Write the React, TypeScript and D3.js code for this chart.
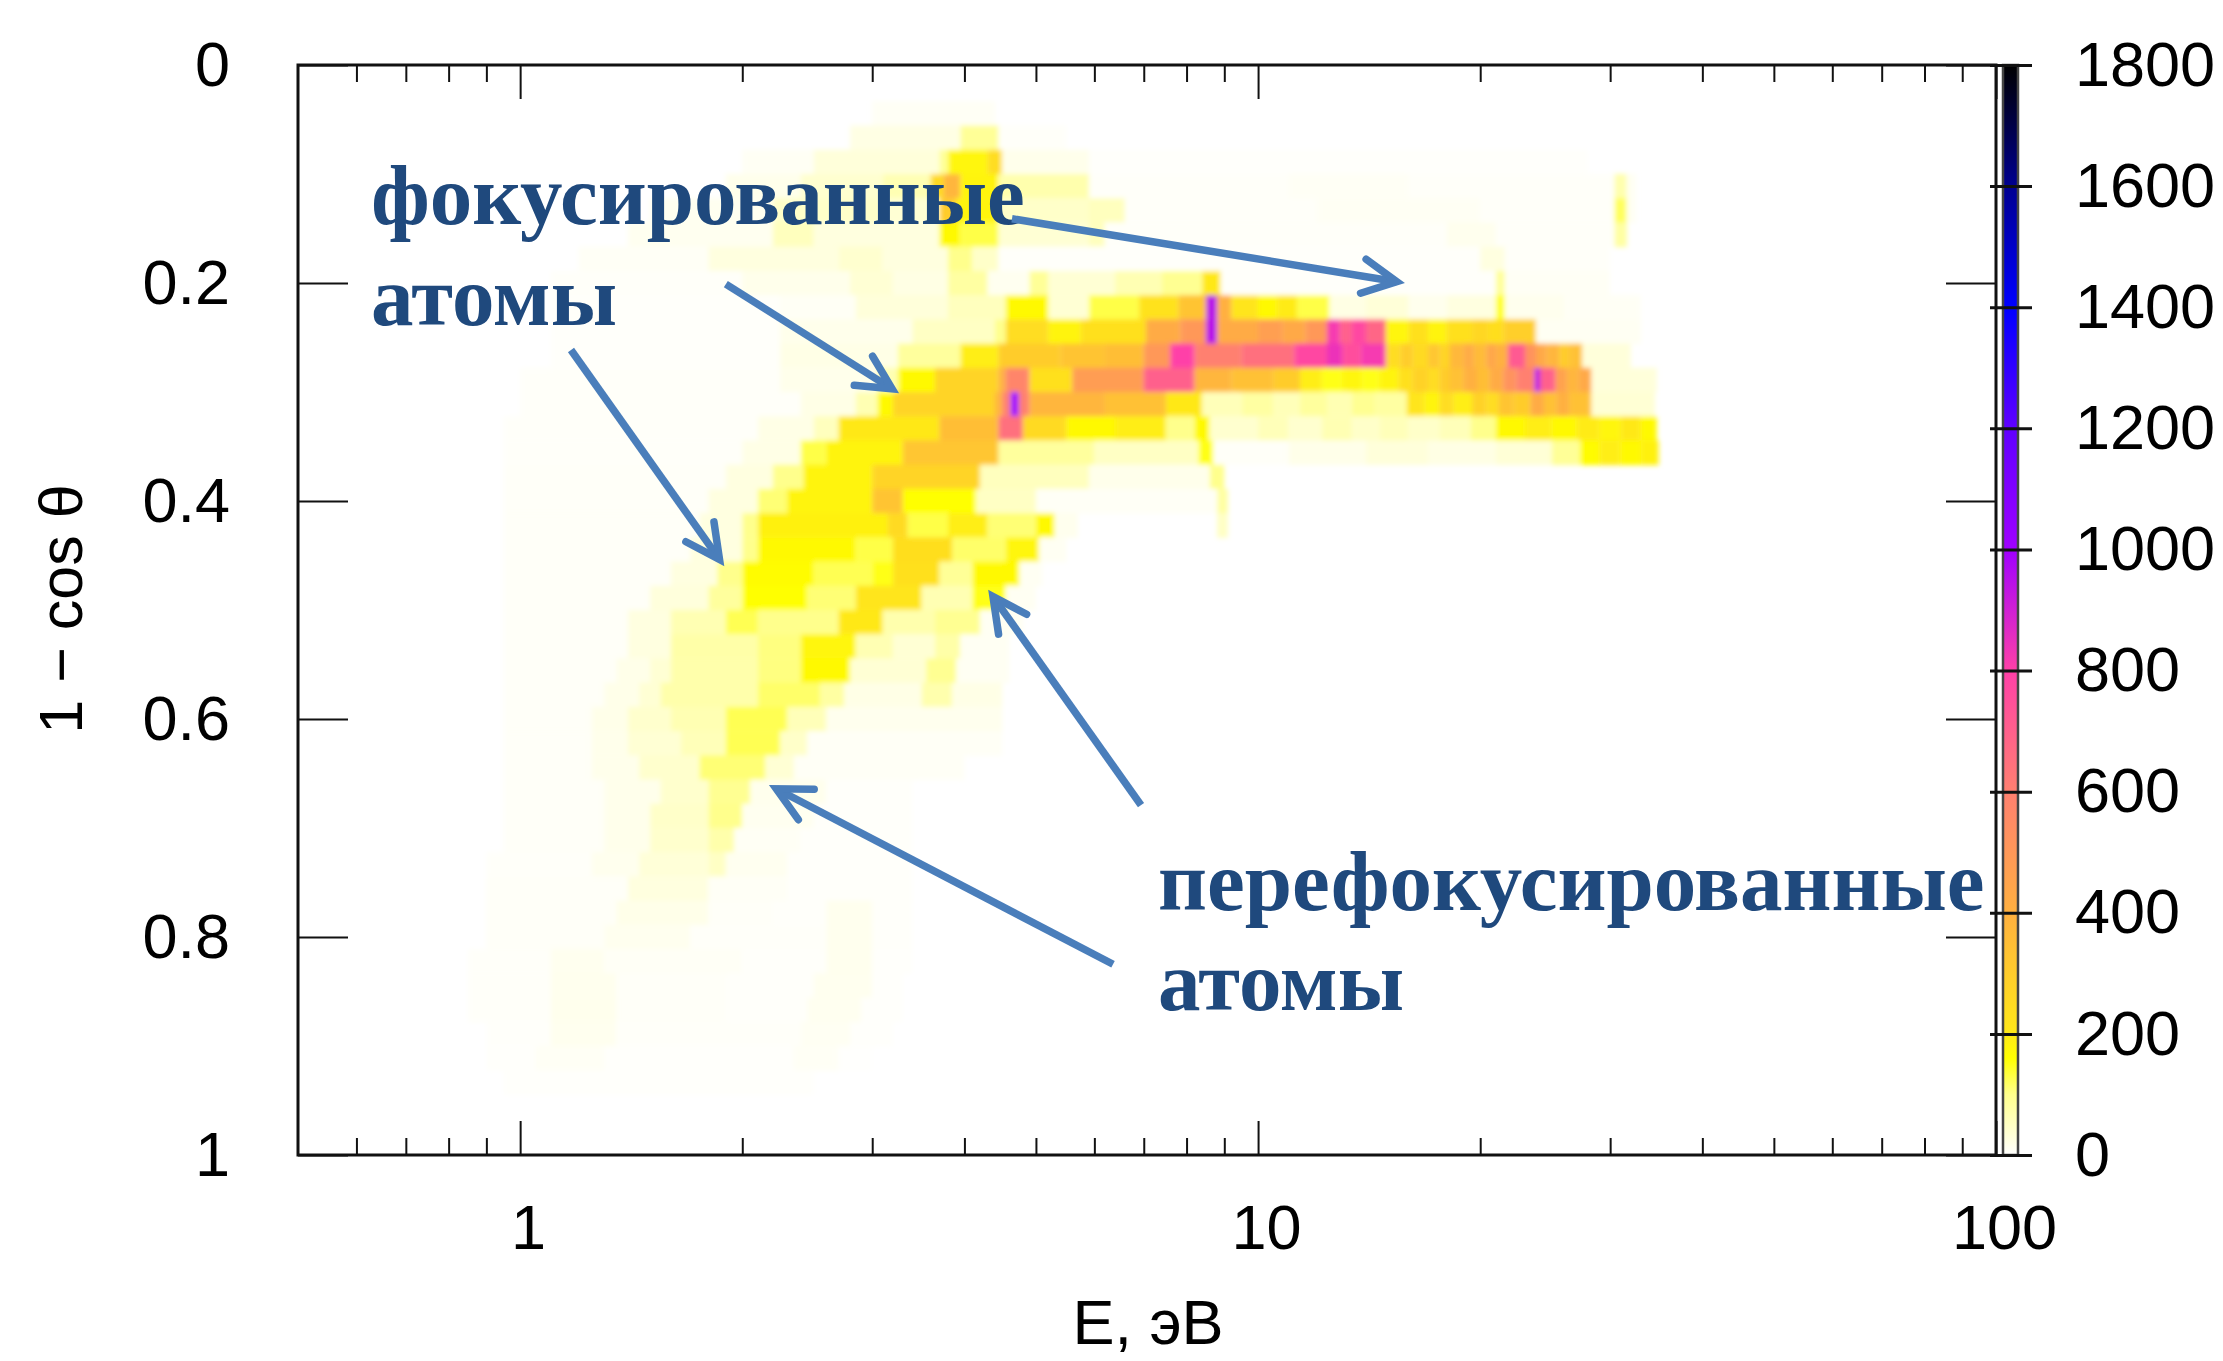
import React, { useEffect, useRef } from "react"
import * as d3 from "d3"

const width = 2223
const height = 1361

// row number k stands for 1 - cos(theta) = k / 45
const rowStep = 1 / 45

// each row: [E from, E to, counts]
const row2 = [[3.0, 4.4, 8]]
const row3 = [[2.8, 3.95, 22], [3.95, 4.45, 90], [4.45, 5.5, 5]]
const row4 = [[2.0, 2.5, 9], [2.5, 3.7, 30], [3.7, 3.8, 90], [3.8, 4.3, 175], [4.3, 4.5, 240], [4.5, 5.9, 16], [5.9, 28, 3]]
const row5 = [[1.9, 2.4, 16], [2.4, 3.1, 40], [3.1, 3.6, 65], [3.6, 3.75, 250], [3.75, 3.95, 380], [3.95, 4.45, 180], [4.45, 5.9, 70], [5.9, 11, 5], [11, 16, 8], [16, 30.4, 5], [30.4, 31.6, 70], [31.6, 32.5, 10]]
const row6 = [[1.5, 2.2, 12], [2.2, 3.1, 45], [3.1, 3.7, 35], [3.7, 3.9, 300], [3.9, 4.45, 180], [4.45, 5.9, 45], [5.9, 6.6, 55], [6.6, 12, 5], [12, 20, 9], [20, 30.4, 5], [30.4, 31.6, 120], [31.6, 32.5, 10]]
const row7 = [[1.4, 2.2, 12], [2.2, 2.5, 55], [2.5, 3.7, 26], [3.7, 3.95, 170], [3.95, 4.45, 130], [4.45, 5.9, 35], [5.9, 6.2, 55], [6.2, 18, 5], [18, 21, 14], [21, 30.4, 5], [30.4, 31.6, 80]]
const row8 = [[1.2, 1.8, 7], [1.8, 2.7, 26], [2.7, 3.1, 40], [3.1, 3.8, 26], [3.8, 4.1, 100], [4.1, 4.45, 45], [4.45, 20, 4], [20, 21.6, 25], [21.6, 30, 5]]
const row9 = [[1.1, 2.0, 5], [2.0, 2.8, 16], [2.8, 3.2, 35], [3.2, 3.8, 22], [3.8, 4.3, 80], [4.3, 4.9, 12], [4.9, 5.2, 90], [5.2, 6.4, 35], [6.4, 7.4, 65], [7.4, 8.4, 95], [8.4, 8.9, 200], [8.9, 21, 4], [21, 21.6, 90], [21.6, 30, 8]]
const row10 = [[1.1, 2.25, 4], [2.25, 2.85, 8], [2.85, 3.8, 30], [3.8, 4.55, 55], [4.55, 5.2, 170], [5.2, 5.9, 35], [5.9, 6.9, 130], [6.9, 7.8, 220], [7.8, 8.5, 330], [8.5, 8.8, 950], [8.8, 9.2, 400], [9.2, 10, 210], [10, 10.6, 170], [10.6, 11.3, 195], [11.3, 12.5, 130], [12.5, 14, 22], [14, 16, 32], [16, 18, 15], [18, 21, 25], [21, 21.6, 150], [21.6, 26, 14], [26, 33, 8]]
const row11 = [[1.1, 2.25, 4], [2.25, 3.4, 16], [3.4, 4.4, 50], [4.4, 4.55, 100], [4.55, 5.2, 240], [5.2, 5.75, 180], [5.75, 7.05, 230], [7.05, 7.85, 420], [7.85, 8.5, 500], [8.5, 8.8, 950], [8.8, 10, 420], [10, 10.8, 470], [10.8, 11.6, 430], [11.6, 12.4, 500], [12.4, 12.9, 820], [12.9, 13.4, 700], [13.4, 14, 780], [14, 14.9, 680], [14.9, 16, 175], [16, 17, 230], [17, 18, 180], [18, 19.5, 230], [19.5, 20.5, 260], [20.5, 21.5, 235], [21.5, 23.8, 290], [23.8, 33, 10]]
const row12 = [[1.1, 2.25, 4], [2.25, 3.25, 20], [3.25, 3.95, 85], [3.95, 4.45, 190], [4.45, 5.4, 300], [5.4, 6.2, 330], [6.2, 7.0, 350], [7.0, 7.6, 500], [7.6, 8.2, 800], [8.2, 9.5, 600], [9.5, 11.2, 650], [11.2, 12.4, 780], [12.4, 13, 840], [13, 13.8, 760], [13.8, 14.9, 820], [14.9, 15.6, 240], [15.6, 16.2, 300], [16.2, 17, 250], [17, 17.6, 320], [17.6, 18.2, 270], [18.2, 19, 370], [19, 19.6, 420], [19.6, 20.4, 360], [20.4, 21, 440], [21, 21.8, 400], [21.8, 23, 720], [23, 23.8, 520], [23.8, 24.6, 430], [24.6, 25.6, 380], [25.6, 26.4, 300], [26.4, 27.5, 340], [27.5, 32, 30]]
const row13 = [[1.0, 2.25, 5], [2.25, 3.05, 16], [3.05, 3.25, 65], [3.25, 3.65, 170], [3.65, 4.45, 270], [4.45, 4.55, 400], [4.55, 4.9, 580], [4.9, 5.6, 230], [5.6, 7.0, 480], [7.0, 8.2, 700], [8.2, 9.2, 380], [9.2, 10.5, 340], [10.5, 11.4, 300], [11.4, 12.2, 190], [12.2, 13, 150], [13, 13.8, 175], [13.8, 14.6, 150], [14.6, 15.5, 180], [15.5, 16.2, 230], [16.2, 17, 280], [17, 17.6, 240], [17.6, 18.2, 300], [18.2, 19, 340], [19, 19.8, 400], [19.8, 20.6, 350], [20.6, 21.5, 420], [21.5, 22.4, 520], [22.4, 23.7, 600], [23.7, 24.1, 950], [24.1, 25.3, 700], [25.3, 26.2, 460], [26.2, 27.2, 380], [27.2, 28.3, 430], [28.3, 34.7, 30]]
const row14 = [[1.0, 2.4, 5], [2.4, 2.85, 20], [2.85, 3.05, 65], [3.05, 3.2, 170], [3.2, 4.4, 270], [4.4, 4.5, 380], [4.5, 4.62, 600], [4.62, 4.74, 1000], [4.74, 4.9, 600], [4.9, 6.2, 380], [6.2, 7.5, 340], [7.5, 8.4, 200], [8.4, 9.5, 60], [9.5, 10.5, 80], [10.5, 11.4, 60], [11.4, 12.4, 85], [12.4, 13.4, 65], [13.4, 14.4, 95], [14.4, 15.9, 80], [15.9, 16.8, 210], [16.8, 17.6, 180], [17.6, 18.4, 240], [18.4, 19.5, 190], [19.5, 20.4, 280], [20.4, 21.2, 240], [21.2, 22.2, 330], [22.2, 23.4, 300], [23.4, 24.4, 420], [24.4, 25.4, 340], [25.4, 26.4, 400], [26.4, 28.3, 340], [28.3, 34.5, 35]]
const row15 = [[0.95, 2.1, 5], [2.1, 2.5, 20], [2.5, 2.7, 55], [2.7, 3.7, 200], [3.7, 4.45, 350], [4.45, 4.8, 650], [4.8, 5.5, 250], [5.5, 6.4, 170], [6.4, 7.5, 190], [7.5, 8.2, 100], [8.2, 8.6, 170], [8.6, 10, 40], [10, 11, 60], [11, 12.2, 40], [12.2, 13.4, 65], [13.4, 14.6, 45], [14.6, 16, 60], [16, 17.6, 45], [17.6, 19.4, 60], [19.4, 21, 100], [21, 23, 170], [23, 25, 190], [25, 27, 170], [27, 29, 195], [29, 31, 175], [31, 33, 200], [33, 34.7, 170]]
const row16 = [[0.95, 2.0, 5], [2.0, 2.4, 20], [2.4, 2.6, 130], [2.6, 3.3, 180], [3.3, 4.45, 320], [4.45, 6, 85], [6, 8.3, 50], [8.3, 8.7, 150], [8.7, 11, 6], [11, 14, 18], [14, 17, 30], [17, 21, 22], [21, 25, 34], [25, 27.3, 90], [27.3, 29, 165], [29, 31, 190], [31, 33, 170], [33, 34.9, 185]]
const row17 = [[0.95, 1.9, 6], [1.9, 2.2, 25], [2.2, 2.42, 100], [2.42, 3.0, 180], [3.0, 4.2, 270], [4.2, 5.9, 55], [5.9, 8.6, 16], [8.6, 9.0, 100]]
const row18 = [[0.95, 1.8, 6], [1.8, 2.1, 25], [2.1, 2.3, 110], [2.3, 3.0, 180], [3.0, 3.3, 330], [3.3, 4.15, 160], [4.15, 5, 50], [5, 8.8, 7], [8.8, 9.1, 80]]
const row19 = [[0.95, 1.75, 6], [1.75, 2.0, 25], [2.0, 2.1, 100], [2.1, 3.15, 185], [3.15, 3.35, 250], [3.35, 3.8, 130], [3.8, 4.3, 190], [4.3, 5.0, 110], [5.0, 5.3, 170], [5.3, 5.7, 14], [8.8, 9.1, 50]]
const row20 = [[0.95, 1.7, 6], [1.7, 2.0, 25], [2.0, 2.1, 100], [2.1, 2.85, 170], [2.85, 3.2, 130], [3.2, 3.85, 235], [3.85, 4.55, 115], [4.55, 5.05, 175], [5.05, 5.5, 10]]
const row21 = [[0.95, 1.6, 6], [1.6, 1.85, 25], [1.85, 2.0, 100], [2.0, 2.5, 165], [2.5, 3.0, 125], [3.0, 3.2, 150], [3.2, 3.7, 230], [3.7, 4.1, 90], [4.1, 4.75, 170], [4.75, 5.1, 10]]
const row22 = [[0.95, 1.5, 6], [1.5, 1.8, 28], [1.8, 2.0, 85], [2.0, 2.45, 160], [2.45, 2.85, 110], [2.85, 3.5, 210], [3.5, 4.1, 65], [4.1, 4.55, 150], [4.55, 5, 10]]
const row23 = [[0.95, 1.4, 6], [1.4, 1.6, 25], [1.6, 1.9, 65], [1.9, 2.1, 125], [2.1, 2.7, 100], [2.7, 3.1, 200], [3.1, 3.65, 70], [3.65, 4.2, 95], [4.2, 4.8, 10]]
const row24 = [[0.95, 1.4, 6], [1.4, 1.6, 25], [1.6, 2.1, 75], [2.1, 2.4, 105], [2.4, 2.85, 175], [2.85, 3.2, 65], [3.2, 3.65, 35], [3.65, 3.95, 75], [3.95, 4.6, 10]]
const row25 = [[0.95, 1.35, 6], [1.35, 1.5, 18], [1.5, 1.6, 35], [1.6, 2.1, 72], [2.1, 2.4, 105], [2.4, 2.8, 170], [2.8, 3.55, 35], [3.55, 3.9, 95], [3.9, 4.6, 10]]
const row26 = [[0.95, 1.3, 6], [1.3, 1.45, 18], [1.45, 1.55, 35], [1.55, 2.1, 72], [2.1, 2.55, 115], [2.55, 2.75, 80], [2.75, 3.5, 20], [3.5, 3.85, 70], [3.85, 4.5, 20]]
const row27 = [[0.95, 1.25, 6], [1.25, 1.4, 18], [1.4, 1.6, 42], [1.6, 1.9, 65], [1.9, 2.3, 125], [2.3, 2.6, 60], [2.6, 4.5, 14]]
const row28 = [[0.95, 1.25, 6], [1.25, 1.4, 16], [1.4, 1.65, 35], [1.65, 1.9, 60], [1.9, 2.25, 125], [2.25, 2.45, 45], [2.45, 4.5, 7]]
const row29 = [[0.95, 1.25, 6], [1.25, 1.45, 16], [1.45, 1.75, 42], [1.75, 2.15, 110], [2.15, 2.35, 35], [2.35, 4, 7]]
const row30 = [[0.95, 1.3, 6], [1.3, 1.55, 16], [1.55, 1.8, 42], [1.8, 2.05, 95], [2.05, 2.6, 15], [2.6, 3.4, 4]]
const row31 = [[0.95, 1.3, 6], [1.3, 1.5, 16], [1.5, 1.8, 45], [1.8, 2.0, 100], [2.0, 2.5, 12], [2.5, 3.4, 4]]
const row32 = [[0.95, 1.3, 6], [1.3, 1.5, 16], [1.5, 1.8, 42], [1.8, 1.95, 72], [1.95, 2.4, 8], [2.4, 3.4, 4]]
const row33 = [[0.9, 1.25, 5], [1.25, 1.45, 14], [1.45, 1.8, 32], [1.8, 1.9, 50], [1.9, 2.3, 12], [2.3, 3.4, 4]]
const row34 = [[0.9, 1.4, 6], [1.4, 1.8, 26], [1.8, 2.3, 7], [2.3, 3.4, 4]]
const row35 = [[0.9, 1.35, 6], [1.35, 1.8, 18], [1.8, 2.2, 6], [2.2, 2.6, 4], [2.6, 3.0, 14], [3.0, 3.4, 4]]
const row36 = [[0.9, 1.3, 6], [1.3, 1.7, 13], [1.7, 2.6, 5], [2.6, 3.0, 14], [3.0, 3.4, 4]]
const row37 = [[0.85, 1.1, 5], [1.1, 1.3, 13], [1.3, 2.0, 7], [2.0, 2.6, 4], [2.6, 3.0, 14], [3.0, 3.4, 3]]
const row38 = [[0.85, 1.1, 5], [1.1, 1.35, 14], [1.35, 1.9, 6], [1.9, 2.5, 4], [2.5, 3.0, 13], [3.0, 3.3, 3]]
const row39 = [[0.85, 1.1, 5], [1.1, 1.35, 15], [1.35, 1.9, 6], [1.9, 2.45, 4], [2.45, 2.9, 12], [2.9, 3.3, 3]]
const row40 = [[0.9, 1.1, 4], [1.1, 1.35, 13], [1.35, 2.4, 5], [2.4, 2.8, 10], [2.8, 3.2, 3]]
const row41 = [[0.9, 1.05, 3], [1.05, 1.3, 8], [1.3, 2.35, 3], [2.35, 2.7, 8], [2.7, 3.0, 2]]
const row42 = [[0.95, 2.5, 3]]

const heatRows = [
  [2, row2], [3, row3], [4, row4], [5, row5], [6, row6], [7, row7], [8, row8], [9, row9], [10, row10],
  [11, row11], [12, row12], [13, row13], [14, row14], [15, row15], [16, row16], [17, row17], [18, row18],
  [19, row19], [20, row20], [21, row21], [22, row22], [23, row23], [24, row24], [25, row25], [26, row26],
  [27, row27], [28, row28], [29, row29], [30, row30], [31, row31], [32, row32], [33, row33], [34, row34],
  [35, row35], [36, row36], [37, row37], [38, row38], [39, row39], [40, row40], [41, row41], [42, row42],
]

const xMajor = [1, 10, 100]
const xMinor = [0.6, 0.7, 0.8, 0.9, 2, 3, 4, 5, 6, 7, 8, 9, 20, 30, 40, 50, 60, 70, 80, 90]
const yTicks = [0, 0.2, 0.4, 0.6, 0.8, 1]
const colorTicks = [0, 200, 400, 600, 800, 1000, 1200, 1400, 1600, 1800]

const paletteStops = [0, 30, 100, 160, 200, 400, 600, 800, 1000, 1200, 1400, 1600, 1800]
const paletteColors = ["#ffffff", "#ffffda", "#ffff8c", "#ffff00", "#ffe818", "#ffb040", "#ff8070", "#ff40a8", "#a000ff", "#6000ff", "#0000ff", "#000090", "#000000"]

// arrows: [E tail, y tail, E tip, y tip]
const arrows = [
  [4.64, 0.141, 15.8, 0.2],
  [1.9, 0.201, 3.26, 0.301],
  [1.172, 0.2615, 1.89, 0.4596],
  [6.94, 0.679, 4.31, 0.4817],
  [6.36, 0.825, 2.175, 0.6606],
]

const labels = [
  { text: "фокусированные", x: 371, y: 224 },
  { text: "атомы", x: 371, y: 325 },
  { text: "перефокусированные", x: 1158, y: 910 },
  { text: "атомы", x: 1158, y: 1010 },
]

const App = () => {
  const svgRef = useRef<SVGSVGElement>(null)

  useEffect(() => {
    if (!svgRef.current) return
    const svg = d3.select(svgRef.current)
    svg.selectAll("*").remove()

    const left = 298
    const right = 1996
    const top = 65
    const bottom = 1155
    const sans = "'Liberation Sans', Arial, sans-serif"
    const ink = "#111"

    const x = d3.scaleLog().domain([0.5, 100]).range([left, right])
    const y = d3.scaleLinear().domain([0, 1]).range([top, bottom])
    const c = d3.scaleLinear().domain([0, 1800]).range([bottom, top])
    const color = d3.scaleLinear<string>().domain(paletteStops).range(paletteColors)

    const defs = svg.append("defs")
    defs.append("clipPath").attr("id", "plot-clip")
      .append("rect").attr("x", left).attr("y", top).attr("width", right - left).attr("height", bottom - top)
    defs.append("filter").attr("id", "soft").attr("x", "-5%").attr("y", "-5%").attr("width", "110%").attr("height", "110%")
      .append("feGaussianBlur").attr("stdDeviation", 2.4)
    const grad = defs.append("linearGradient").attr("id", "bar-grad").attr("x1", 0).attr("x2", 0).attr("y1", 1).attr("y2", 0)
    paletteStops.forEach((s, i) => {
      grad.append("stop").attr("offset", s / 1800).attr("stop-color", paletteColors[i])
    })

    // heat map cells
    const heat = svg.append("g").attr("clip-path", "url(#plot-clip)").append("g").attr("filter", "url(#soft)")
    heatRows.forEach(([k, segs]: any) => {
      const yMid = k * rowStep
      heat.append("g").selectAll("rect")
        .data(segs)
        .join("rect")
        .attr("x", (d: any) => x(d[0]))
        .attr("width", (d: any) => x(d[1]) - x(d[0]))
        .attr("y", y(yMid - rowStep / 2))
        .attr("height", y(rowStep) - y(0) + 0.5)
        .attr("fill", (d: any) => color(d[2]))
    })

    // ticks
    const styleAxis = (g: any, sw: number) => {
      g.select(".domain").remove()
      g.selectAll("line").attr("stroke", ink).attr("stroke-width", sw)
      g.selectAll("text").attr("fill", "#000").style("font-family", sans).style("font-size", "63px")
    }
    svg.append("g").attr("transform", `translate(0,${bottom})`)
      .call(d3.axisBottom(x).tickValues(xMajor).tickSizeInner(-34).tickSizeOuter(0).tickPadding(49).tickFormat(d3.format("d") as any))
      .call(styleAxis, 2).selectAll("text").attr("dx", 8)
    svg.append("g").attr("transform", `translate(0,${bottom})`)
      .call(d3.axisBottom(x).tickValues(xMinor).tickSizeInner(-17).tickSizeOuter(0).tickFormat(() => ""))
      .call(styleAxis, 2)
    svg.append("g").attr("transform", `translate(0,${top})`)
      .call(d3.axisTop(x).tickValues(xMajor).tickSizeInner(-34).tickSizeOuter(0).tickFormat(() => ""))
      .call(styleAxis, 2)
    svg.append("g").attr("transform", `translate(0,${top})`)
      .call(d3.axisTop(x).tickValues(xMinor).tickSizeInner(-17).tickSizeOuter(0).tickFormat(() => ""))
      .call(styleAxis, 2)
    svg.append("g").attr("transform", `translate(${left},0)`)
      .call(d3.axisLeft(y).tickValues(yTicks).tickSizeInner(-50).tickSizeOuter(0).tickPadding(68).tickFormat(d3.format("~g") as any))
      .call(styleAxis, 2)
    svg.append("g").attr("transform", `translate(${right},0)`)
      .call(d3.axisRight(y).tickValues(yTicks).tickSizeInner(-50).tickSizeOuter(0).tickFormat(() => ""))
      .call(styleAxis, 2)

    // frame
    svg.append("rect").attr("x", left).attr("y", top).attr("width", right - left).attr("height", bottom - top)
      .attr("fill", "none").attr("stroke", ink).attr("stroke-width", 3)

    // colour bar
    svg.append("rect").attr("x", 2003).attr("y", top).attr("width", 15).attr("height", bottom - top)
      .attr("fill", "url(#bar-grad)").attr("stroke", "#444").attr("stroke-width", 2.5)
    svg.append("g").attr("transform", "translate(1990,0)")
      .call(d3.axisRight(c).tickValues(colorTicks).tickSizeInner(42).tickSizeOuter(0).tickPadding(43).tickFormat(d3.format("d") as any))
      .call(styleAxis, 3)

    // axis titles
    svg.append("text").attr("x", 1148).attr("y", 1344).attr("text-anchor", "middle")
      .style("font-family", sans).style("font-size", "63px").text("E, эВ")
    svg.append("text").attr("transform", "translate(82,609) rotate(-90)").attr("text-anchor", "middle")
      .style("font-family", sans).style("font-size", "61px").text("1 − cos θ")

    // annotations
    svg.append("g").selectAll("text").data(labels).join("text")
      .attr("x", d => d.x).attr("y", d => d.y)
      .attr("fill", "#1f497d")
      .style("font-family", "'Liberation Serif', 'Times New Roman', serif")
      .style("font-weight", "bold").style("font-size", "85px")
      .text(d => d.text)

    const arrowG = svg.append("g").attr("fill", "none").attr("stroke", "#4a7ebb").attr("stroke-width", 7.5)
    arrows.forEach(([e0, v0, e1, v1]) => {
      const x0 = x(e0), y0 = y(v0)
      const a = Math.atan2(y(v1) - y0, x(e1) - x0)
      // the mitred tip sticks out past the join, so pull the join back
      const x1 = x(e1) - 8 * Math.cos(a)
      const y1 = y(v1) - 8 * Math.sin(a)
      const wing = 38
      const spread = 0.47
      const path = d3.path()
      path.moveTo(x1 - wing * Math.cos(a - spread), y1 - wing * Math.sin(a - spread))
      path.lineTo(x1, y1)
      path.lineTo(x1 - wing * Math.cos(a + spread), y1 - wing * Math.sin(a + spread))
      arrowG.append("line").attr("x1", x0).attr("y1", y0).attr("x2", x1).attr("y2", y1)
      arrowG.append("path").attr("d", path.toString()).attr("stroke-linecap", "round").attr("stroke-linejoin", "miter")
    })
  }, [])

  return (
    <svg
      ref={svgRef}
      width={width}
      height={height}
      viewBox={`0 0 ${width} ${height}`}
      style={{ position: "absolute", left: 0, top: 0, background: "#fff" }}
    />
  )
}

export default App
